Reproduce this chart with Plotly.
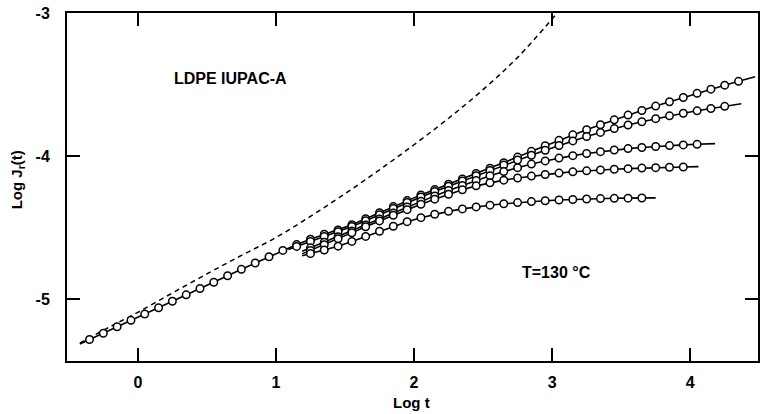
import plotly.graph_objects as go

# ---- data (log t, log J_r(t)) ----
master_x = [-0.35, -0.25, -0.15, -0.05, 0.05, 0.15, 0.25, 0.35, 0.45, 0.55, 0.65, 0.75, 0.85, 0.95, 1.05]
master_y = [-5.280, -5.236, -5.191, -5.146, -5.102, -5.058, -5.013, -4.968, -4.924, -4.880, -4.835, -4.790, -4.746, -4.702, -4.658]

a_x = [1.15, 1.25, 1.35, 1.45, 1.55, 1.65, 1.75, 1.85, 1.95, 2.05, 2.15, 2.25, 2.35, 2.45, 2.55, 2.65, 2.75,
       2.85, 2.95, 3.05, 3.15, 3.25, 3.35, 3.45, 3.55, 3.65, 3.75, 3.85, 3.95, 4.05, 4.15, 4.25, 4.35]
a_y = [-4.617, -4.580, -4.545, -4.515, -4.478, -4.437, -4.395, -4.352, -4.310, -4.270, -4.233, -4.196, -4.159,
       -4.121, -4.084, -4.045, -4.006, -3.966, -3.927, -3.889, -3.851, -3.815, -3.780, -3.746, -3.713, -3.681,
       -3.650, -3.620, -3.590, -3.561, -3.532, -3.504, -3.477]

b_x = [1.15, 1.25, 1.35, 1.45, 1.55, 1.65, 1.75, 1.85, 1.95, 2.05, 2.15, 2.25, 2.35, 2.45, 2.55, 2.65, 2.75,
       2.85, 2.95, 3.05, 3.15, 3.25, 3.35, 3.45, 3.55, 3.65, 3.75, 3.85, 3.95, 4.05, 4.15, 4.25]
b_y = [-4.630, -4.595, -4.560, -4.527, -4.490, -4.450, -4.408, -4.366, -4.324, -4.285, -4.247, -4.210, -4.173,
       -4.136, -4.099, -4.062, -4.027, -3.993, -3.958, -3.925, -3.893, -3.862, -3.834, -3.807, -3.782, -3.759,
       -3.738, -3.718, -3.700, -3.683, -3.667, -3.652]

c_x = [1.25, 1.35, 1.45, 1.55, 1.65, 1.75, 1.85, 1.95, 2.05, 2.15, 2.25, 2.35, 2.45, 2.55, 2.65, 2.75,
       2.85, 2.95, 3.05, 3.15, 3.25, 3.35, 3.45, 3.55, 3.65, 3.75, 3.85, 3.95, 4.05]
c_y = [-4.640, -4.600, -4.562, -4.522, -4.480, -4.438, -4.396, -4.355, -4.315, -4.277, -4.240, -4.204, -4.170,
       -4.137, -4.107, -4.080, -4.055, -4.033, -4.013, -3.996, -3.981, -3.968, -3.957, -3.947, -3.939, -3.932,
       -3.926, -3.921, -3.917]

d_x = [1.25, 1.35, 1.45, 1.55, 1.65, 1.75, 1.85, 1.95, 2.05, 2.15, 2.25, 2.35, 2.45, 2.55, 2.65, 2.75,
       2.85, 2.95, 3.05, 3.15, 3.25, 3.35, 3.45, 3.55, 3.65, 3.75, 3.85, 3.95]
d_y = [-4.658, -4.618, -4.577, -4.535, -4.493, -4.452, -4.412, -4.373, -4.336, -4.300, -4.266, -4.235, -4.207,
       -4.185, -4.167, -4.152, -4.139, -4.128, -4.118, -4.109, -4.102, -4.096, -4.091, -4.087, -4.083, -4.080,
       -4.077, -4.075]

e_x = [1.25, 1.35, 1.45, 1.55, 1.65, 1.75, 1.85, 1.95, 2.05, 2.15, 2.25, 2.35, 2.45, 2.55, 2.65, 2.75,
       2.85, 2.95, 3.05, 3.15, 3.25, 3.35, 3.45, 3.55, 3.65]
e_y = [-4.680, -4.655, -4.628, -4.595, -4.560, -4.524, -4.489, -4.457, -4.429, -4.405, -4.385, -4.368, -4.354,
       -4.342, -4.332, -4.324, -4.317, -4.311, -4.306, -4.302, -4.299, -4.296, -4.294, -4.293, -4.292]

dash_x = [-0.42, -0.2, 0.0, 0.25, 0.5, 0.75, 1.0, 1.25, 1.5, 1.75, 2.0, 2.25, 2.5, 2.75, 3.02]
dash_y = [-5.305, -5.19, -5.09, -4.955, -4.822, -4.693, -4.568, -4.42, -4.262, -4.095, -3.92, -3.735, -3.535, -3.31, -3.02]

x_ticks = [0, 1, 2, 3, 4]
x_labels = ["0", "1", "2", "3", "4"]
y_ticks = [-5, -4, -3]
y_labels = ["-5", "-4", "-3"]


def extend(xs, ys, before, after):
    s0 = (ys[1] - ys[0]) / (xs[1] - xs[0])
    s1 = (ys[-1] - ys[-2]) / (xs[-1] - xs[-2])
    return ([xs[0] - before] + list(xs) + [xs[-1] + after],
            [ys[0] - s0 * before] + list(ys) + [ys[-1] + s1 * after])


FONT = "Liberation Sans"
fig = go.Figure()

fig.add_trace(go.Scatter(x=dash_x, y=dash_y, mode="lines",
                         line=dict(color="black", width=1.5, dash="5px,4px", shape="spline"),
                         hoverinfo="skip"))

curves = [
    (master_x + a_x, master_y + a_y, 0.07, 0.12),
    (b_x, b_y, 0.06, 0.12),
    (c_x, c_y, 0.06, 0.13),
    (d_x, d_y, 0.06, 0.11),
    (e_x, e_y, 0.06, 0.10),
]
for xs, ys, bef, aft in curves:
    lx, ly = extend(xs, ys, bef, aft)
    fig.add_trace(go.Scatter(x=lx, y=ly, mode="lines",
                             line=dict(color="black", width=1.6), hoverinfo="skip"))
for xs, ys, _, _ in curves:
    fig.add_trace(go.Scatter(x=xs, y=ys, mode="markers",
                             marker=dict(symbol="circle", size=7.5, color="white",
                                         line=dict(color="black", width=1.5)),
                             hoverinfo="skip"))

axis_common = dict(showline=True, linewidth=2, linecolor="black", mirror="allticks",
                   ticks="inside", ticklen=13, tickwidth=2, tickcolor="black",
                   showgrid=False, zeroline=False,
                   tickfont=dict(family=FONT, size=16, color="black", weight="bold"))

fig.update_layout(
    width=762, height=414,
    margin=dict(l=67, r=2, t=13, b=53),
    paper_bgcolor="white", plot_bgcolor="white",
    showlegend=False,
    xaxis=dict(range=[-0.513, 4.491], tickvals=x_ticks, ticktext=x_labels,
               ticklabelstandoff=6, **axis_common),
    yaxis=dict(range=[-5.43, -3.0], tickvals=y_ticks, ticktext=y_labels,
               ticklabelstandoff=12, **axis_common),
    annotations=[
        dict(x=0.67, y=-3.46, xref="x", yref="y", text="LDPE IUPAC-A", showarrow=False,
             font=dict(family=FONT, size=16, color="black", weight="bold")),
        dict(x=3.03, y=-4.81, xref="x", yref="y", text="T=130 °C", showarrow=False,
             font=dict(family=FONT, size=16, color="black", weight="bold")),
        dict(x=0.498, y=-0.12, xref="paper", yref="paper", text="Log t", showarrow=False,
             yanchor="middle", font=dict(family=FONT, size=15, color="black", weight="bold")),
        dict(x=-0.072, y=0.52, xref="paper", yref="paper", text="Log J<sub>r</sub>(t)",
             showarrow=False, textangle=-90, xanchor="center", yanchor="middle",
             font=dict(family=FONT, size=15, color="black", weight="bold")),
    ],
)

fig.write_html("out.html")
